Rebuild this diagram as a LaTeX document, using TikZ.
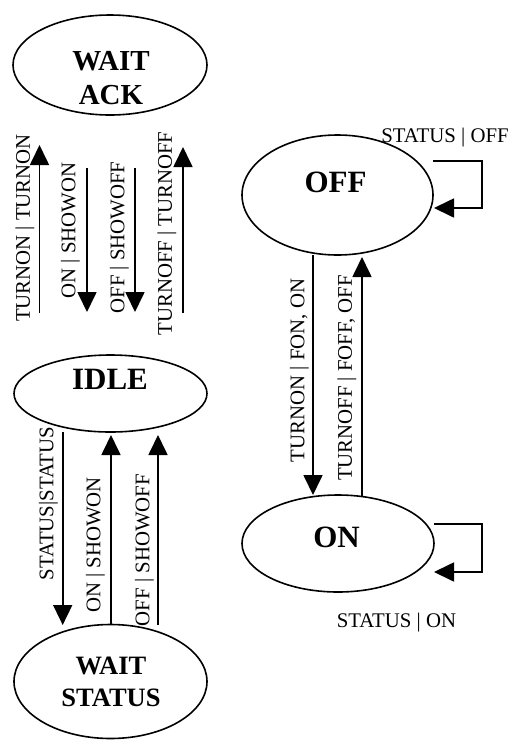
\documentclass[tikz,border=0pt]{standalone}
\usepackage{fontspec}
\setmainfont{Liberation Serif}
\usetikzlibrary{arrows.meta,shapes.geometric}
\begin{document}
\begin{tikzpicture}[x=1pt,y=-1pt,
  state/.style={draw,ellipse,line width=1.6pt,inner sep=0pt},
  stname/.style={font=\fontsize{31}{34}\selectfont\bfseries,align=center,inner sep=0pt},
  arr/.style={line width=1.7pt,-{Triangle[length=20pt,width=19pt]}},
  lbl/.style={font=\fontsize{20.8}{24}\selectfont,inner sep=0pt},
  vlbl/.style={lbl,rotate=90}]
\useasboundingbox (0,0) rectangle (514,740);

% states
\node[state,minimum width=194pt,minimum height=100pt] (ack) at (110,65) {};
\node[state,minimum width=193pt,minimum height=77pt] (idle) at (110.5,393.5) {};
\node[state,minimum width=193pt,minimum height=114pt] (ws) at (110.5,681.5) {};
\node[state,minimum width=191pt,minimum height=120pt] (off) at (337.5,195) {};
\node[state,minimum width=192pt,minimum height=97pt] (on) at (338,543.5) {};

\node[stname,font=\fontsize{29}{34}\selectfont\bfseries] (ackt) at (111,78) {WAIT\\ACK};
\node[stname] (idlet) at (110,379) {IDLE};
\node[stname,font=\fontsize{26.5}{32}\selectfont\bfseries] (wst) at (111,682) {WAIT\\STATUS};
\node[stname] (offt) at (335.5,182) {OFF};
\node[stname] (ont) at (336.5,537.5) {ON};

% WAIT ACK <-> IDLE
\coordinate (a1b) at (39.5,313);  \coordinate (a1t) at (39.5,145);
\coordinate (a2t) at (87,168);    \coordinate (a2b) at (87,312);
\coordinate (a3t) at (135,168);   \coordinate (a3b) at (135,312);
\coordinate (a4b) at (183,313);   \coordinate (a4t) at (183,147);
\draw[arr] (a1b) -- (a1t);
\draw[arr] (a2t) -- (a2b);
\draw[arr] (a3t) -- (a3b);
\draw[arr] (a4b) -- (a4t);
\node[vlbl] (l1) at (25,228) {TURNON | TURNON};
\node[vlbl] (l2) at (70.5,230.5) {ON | SHOWON};
\node[vlbl] (l3) at (119.5,237.5) {OFF | SHOWOFF};
\node[vlbl] (l4) at (167,233.5) {TURNOFF | TURNOFF};

% IDLE <-> WAIT STATUS
\coordinate (b1t) at (62.7,432);  \coordinate (b1b) at (62.7,625);
\coordinate (b2b) at (111,625);   \coordinate (b2t) at (111,435);
\coordinate (b3b) at (158,625);   \coordinate (b3t) at (158,435);
\draw[arr] (b1t) -- (b1b);
\draw[arr] (b2b) -- (b2t);
\draw[arr] (b3b) -- (b3t);
\node[vlbl] (l5) at (48.5,503.5) {STATUS|STATUS};
\node[vlbl] (l6) at (95.5,545) {ON | SHOWON};
\node[vlbl] (l7) at (144.5,550) {OFF | SHOWOFF};

% OFF <-> ON
\coordinate (c1t) at (313,255);   \coordinate (c1b) at (313,495);
\coordinate (c2b) at (362,496);   \coordinate (c2t) at (362,257);
\draw[arr] (c1t) -- (c1b);
\draw[arr] (c2b) -- (c2t);
\node[vlbl] (l8) at (299.5,370.5) {TURNON | FON, ON};
\node[vlbl] (l9) at (347,378) {TURNOFF | FOFF, OFF};

% self loops
\coordinate (d1s) at (433,161);   \coordinate (d1e) at (434,208);
\draw[arr] (d1s) -- (482,161) -- (482,208) -- (d1e);
\node[lbl,anchor=base] (l10) at (445,142) {STATUS | OFF};
\coordinate (d2s) at (434,524);   \coordinate (d2e) at (434,572);
\draw[arr] (d2s) -- (482,524) -- (482,572) -- (d2e);
\node[lbl,anchor=base] (l11) at (396.5,627) {STATUS | ON};
\end{tikzpicture}
\end{document}
